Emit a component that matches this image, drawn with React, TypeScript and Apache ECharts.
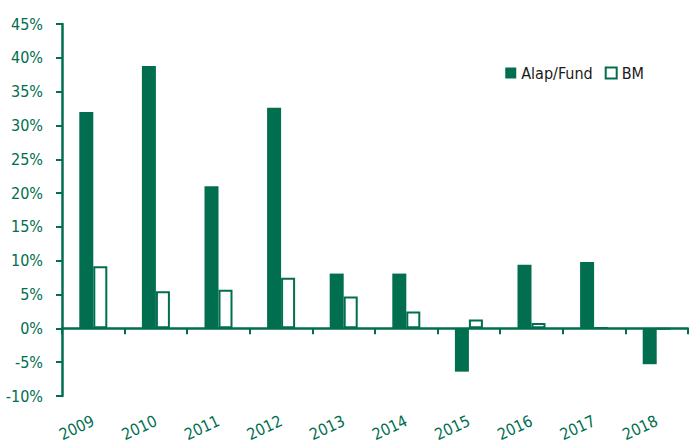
import React, { useEffect, useRef } from "react";
import * as echarts from "echarts";

const years = ["2009", "2010", "2011", "2012", "2013", "2014", "2015", "2016", "2017", "2018"];
const fundValues = [32.0, 38.8, 21.0, 32.6, 8.1, 8.1, -6.4, 9.4, 9.8, -5.3];
const bmValues = [9.2, 5.5, 5.7, 7.5, 4.7, 2.5, 1.3, 0.8, 0.1, -0.1];
const seriesNames = ["Alap/Fund", "BM"];

const GREEN = "#006e4f";
const FONT = "'DejaVu Sans Condensed', 'Liberation Sans Narrow', sans-serif";

export default function App() {
  const ref = useRef<HTMLDivElement>(null);
  useEffect(() => {
    if (!ref.current) return;
    const chart = echarts.init(ref.current, undefined, { renderer: "svg" });
    chart.setOption({
      animation: false,
      backgroundColor: "#ffffff",
      textStyle: { fontFamily: FONT },
      grid: { left: 62, right: 1, top: 24, bottom: 46, containLabel: false },
      legend: {
        top: 60,
        right: 40,
        itemWidth: 11,
        itemHeight: 11,
        itemGap: 12,
        icon: "rect",
        textStyle: { fontFamily: FONT, fontSize: 16, color: "#1a1a1a" },
        data: seriesNames,
      },
      xAxis: [
        {
          type: "category",
          data: years,
          axisLine: { onZero: true, lineStyle: { color: GREEN, width: 2.5 } },
          axisTick: { show: true, length: 6, lineStyle: { color: GREEN, width: 2 } },
          axisLabel: { show: false },
          splitLine: { show: false },
        },
        {
          type: "category",
          data: years,
          position: "bottom",
          axisLine: { show: false, onZero: false },
          axisTick: { show: false },
          axisLabel: {
            show: true,
            rotate: 25,
            margin: 24,
            fontFamily: FONT,
            fontSize: 16,
            color: GREEN,
          },
        },
      ],
      yAxis: {
        type: "value",
        min: -10,
        max: 45,
        interval: 5,
        axisLine: { show: true, lineStyle: { color: GREEN, width: 2.5 } },
        axisTick: { show: true, length: 6, lineStyle: { color: GREEN, width: 2 } },
        splitLine: { show: false },
        axisLabel: {
          formatter: "{value}%",
          fontFamily: FONT,
          fontSize: 16,
          color: GREEN,
          margin: 19,
        },
      },
      series: [
        {
          name: seriesNames[0],
          type: "bar",
          xAxisIndex: 0,
          data: fundValues,
          barWidth: 14,
          barGap: "0%",
          itemStyle: { color: GREEN },
        },
        {
          name: seriesNames[1],
          type: "bar",
          xAxisIndex: 0,
          data: bmValues,
          barWidth: 14,
          barGap: "0%",
          itemStyle: { color: "#ffffff", borderColor: GREEN, borderWidth: 2 },
        },
      ],
    });
    return () => chart.dispose();
  }, []);
  return <div ref={ref} style={{ width: 689, height: 444, position: "absolute", left: 0, top: 0 }} />;
}
